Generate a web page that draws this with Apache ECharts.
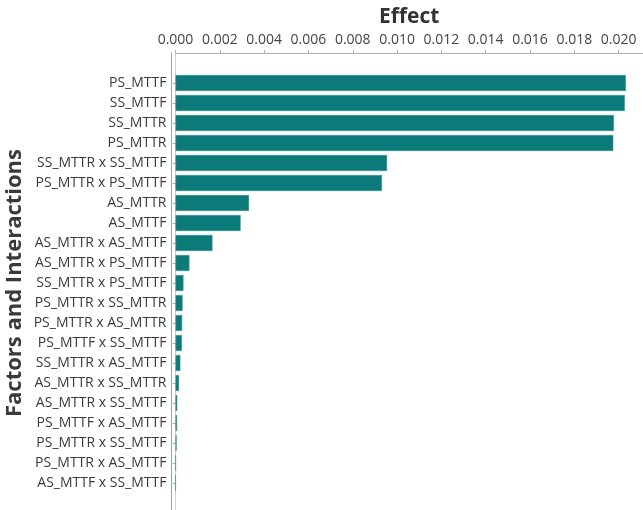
<!DOCTYPE html>
<html>
<head>
<meta charset="utf-8">
<script src="https://cdn.jsdelivr.net/npm/echarts@6/dist/echarts.min.js"></script>
<style>html,body{margin:0;padding:0;background:#fff}#c{width:643px;height:510px}</style>
</head>
<body>
<div id="c"></div>
<script>
const categories = [
  'PS_MTTF','SS_MTTF','SS_MTTR','PS_MTTR',
  'SS_MTTR x SS_MTTF','PS_MTTR x PS_MTTF','AS_MTTR','AS_MTTF',
  'AS_MTTR x AS_MTTF','AS_MTTR x PS_MTTF','SS_MTTR x PS_MTTF','PS_MTTR x SS_MTTR',
  'PS_MTTR x AS_MTTR','PS_MTTF x SS_MTTF','SS_MTTR x AS_MTTF','AS_MTTR x SS_MTTR',
  'AS_MTTR x SS_MTTF','PS_MTTF x AS_MTTF','PS_MTTR x SS_MTTF','PS_MTTR x AS_MTTF',
  'AS_MTTF x SS_MTTF'
];
const effects = [
  0.02033, 0.02028, 0.01979, 0.01976,
  0.00955, 0.00932, 0.00332, 0.00294,
  0.00167, 0.00063, 0.00036, 0.00032,
  0.00030, 0.00029, 0.00022, 0.00016,
  0.00008, 0.00007, 0.00005, 0.00001,
  0.000005
];
const tickInterval = 0.002;
const axisMin = 0;
const axisMax = 0.0211;

const FONT = '"Open Sans", "DejaVu Sans", sans-serif';
const chart = echarts.init(document.getElementById('c'), null, {renderer: 'canvas'});
chart.setOption({
  animation: false,
  grid: [
    {left: 175.5, right: 0, top: 73, bottom: 17, containLabel: false, outerBoundsMode: 'none'},
    {left: 175.5, right: 0, top: 53, bottom: 0, containLabel: false, outerBoundsMode: 'none'}
  ],
  xAxis: [
    {gridIndex: 0, type: 'value', min: axisMin, max: axisMax, show: false},
    {
      gridIndex: 1, type: 'value', position: 'top', min: axisMin, max: axisMax, interval: tickInterval,
      name: 'Effect', nameLocation: 'middle', nameGap: 25, nameMoveOverlap: false,
      nameTextStyle: {fontFamily: FONT, fontSize: 21, fontWeight: 'bold', color: '#333'},
      axisLine: {show: true, onZero: false, lineStyle: {color: '#b0b0b0', width: 1}},
      axisTick: {show: true, length: 3, lineStyle: {color: '#b0b0b0'}},
      axisLabel: {
        showMaxLabel: false, margin: 6, fontFamily: FONT, fontSize: 14, color: '#444',
        formatter: v => v.toFixed(3)
      },
      splitLine: {show: false}
    }
  ],
  yAxis: [
    {
      gridIndex: 0, type: 'category', data: categories, inverse: true, offset: 4,
      name: 'Factors and Interactions', nameLocation: 'middle', nameRotate: 90, nameGap: 146,
      nameMoveOverlap: false,
      nameTextStyle: {fontFamily: FONT, fontSize: 22, fontWeight: 'bold', color: '#3a3a3a'},
      axisLine: {show: false},
      axisTick: {show: true, alignWithLabel: true, length: 3, lineStyle: {color: '#b0b0b0'}},
      axisLabel: {margin: 5, fontFamily: FONT, fontSize: 14, color: '#3a3a3a'}
    },
    {
      gridIndex: 1, type: 'value', min: 0, max: 1, offset: 0, position: 'left',
      axisLine: {show: true, onZero: false, lineStyle: {color: '#d0d0d0', width: 1}},
      axisTick: {show: false}, axisLabel: {show: false}, splitLine: {show: false}
    },
    {
      gridIndex: 1, type: 'value', min: 0, max: 1, offset: 4, position: 'left',
      axisLine: {show: true, onZero: false, lineStyle: {color: '#a0a0a0', width: 1}},
      axisTick: {show: false}, axisLabel: {show: false}, splitLine: {show: false}
    }
  ],
  series: [{
    type: 'bar', xAxisIndex: 0, yAxisIndex: 0, data: effects,
    barCategoryGap: '20%',
    itemStyle: {color: '#0d7a7a', borderColor: '#3f9696', borderWidth: 0.6}
  }]
});
</script>
</body>
</html>
